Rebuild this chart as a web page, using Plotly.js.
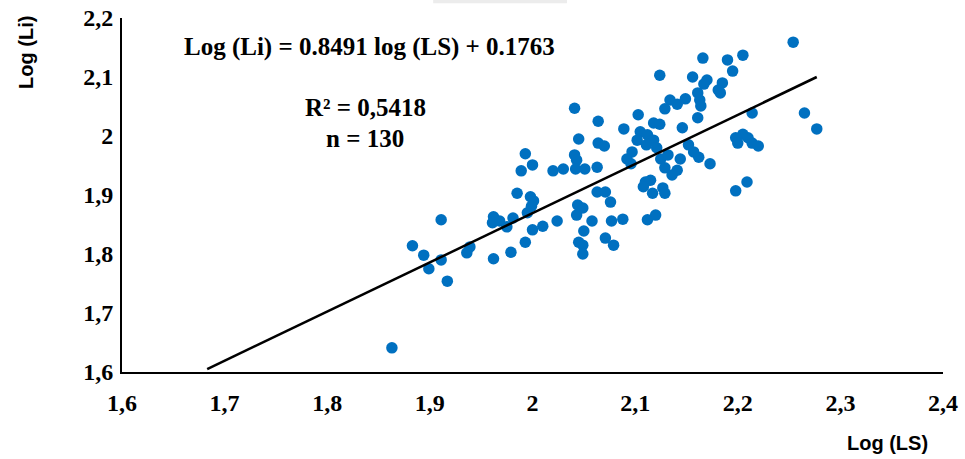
<!DOCTYPE html>
<html>
<head>
<meta charset="utf-8">
<script src="https://cdn.plot.ly/plotly-3.0.1.min.js"></script>
<style>html,body{margin:0;padding:0;background:#fff;}#chart{width:965px;height:459px;}</style>
</head>
<body>
<div id="chart"></div>
<script>
// Observations: Log (LS) on x, Log (Li) on y
const logLS = [
 1.863,1.883,1.894,1.899,1.911,1.917,1.911,1.939,1.936,1.962,1.961,1.968,1.975,1.981,1.995,1.962,1.979,1.993,1.985,1.993,2.000,1.989,1.998,2.001,1.999,
 2.041,2.064,2.089,2.045,2.064,2.070,2.041,2.043,2.020,2.030,2.042,2.051,2.063,2.063,2.071,2.076,2.044,2.049,2.043,2.010,2.024,2.000,2.058,2.050,2.077,2.088,2.045,2.049,2.049,2.071,2.079,2.097,2.092,2.096,
 2.166,2.190,2.195,2.124,2.156,2.170,2.167,2.185,2.181,2.183,2.134,2.129,2.141,2.149,2.161,2.163,2.164,2.103,2.118,2.124,2.105,2.112,2.146,2.161,2.102,2.118,2.111,2.121,2.152,2.157,2.162,2.125,2.132,2.144,2.173,2.129,2.141,2.136,2.110,2.115,2.108,2.127,2.129,2.117,2.120,2.112,
 2.254,2.205,2.214,2.265,2.277,2.205,2.198,2.200,2.210,2.214,2.220,2.209,2.198
];
const logLi = [
 1.641,1.814,1.798,1.775,1.790,1.754,1.858,1.812,1.802,1.863,1.853,1.856,1.846,1.861,1.870,1.792,1.803,1.820,1.903,1.970,1.951,1.941,1.897,1.890,1.881,
 2.047,2.025,2.012,1.995,1.988,1.983,1.968,1.959,1.941,1.944,1.944,1.944,1.947,1.905,1.905,1.888,1.883,1.878,1.866,1.847,1.856,1.841,1.856,1.839,1.856,1.859,1.820,1.815,1.800,1.827,1.815,1.973,1.961,1.953,
 2.132,2.129,2.110,2.103,2.100,2.095,2.088,2.090,2.078,2.073,2.061,2.046,2.054,2.063,2.073,2.061,2.051,2.036,2.022,2.020,2.007,2.002,2.014,2.031,1.993,1.993,1.985,1.980,1.985,1.973,1.964,1.961,1.968,1.961,1.953,1.946,1.942,1.934,1.922,1.925,1.914,1.912,1.903,1.903,1.866,1.858,
 2.159,2.137,2.039,2.039,2.012,2.003,1.997,1.988,1.997,1.988,1.983,1.922,1.907
];
// Trend line as drawn (end points)
const trendX = [1.683, 2.277];
const trendY = [1.605, 2.100];

const xTickVals = [1.6,1.7,1.8,1.9,2.0,2.1,2.2,2.3,2.4];
const xTickText = ['1,6','1,7','1,8','1,9','2','2,1','2,2','2,3','2,4'];
const yTickVals = [1.6,1.7,1.8,1.9,2.0,2.1,2.2];
const yTickText = ['1,6','1,7','1,8','1,9','2','2,1','2,2'];

const equationText = 'Log (Li) = 0.8491 log (LS) + 0.1763';
const r2Text = 'R² = 0,5418';
const nText = 'n = 130';
const xTitle = 'Log (LS)';
const yTitle = 'Log (Li)';

const tickFont = {family:'Liberation Serif, Times New Roman, serif', size:24, color:'#000', weight:'bold'};
const noteFont = {family:'Liberation Serif, Times New Roman, serif', size:25, color:'#000', weight:'bold'};
const titleFont = {family:'Liberation Sans, Arial, sans-serif', size:20, color:'#000', weight:'bold'};

const data = [
  {x: logLS, y: logLi, type:'scatter', mode:'markers',
   marker:{size:11.5, color:'#0070c0'}, hoverinfo:'skip', showlegend:false},
  {x: trendX, y: trendY, type:'scatter', mode:'lines',
   line:{color:'#000', width:2.5}, hoverinfo:'skip', showlegend:false}
];

const layout = {
  width:965, height:459,
  margin:{l:122, r:22, t:18, b:87},
  paper_bgcolor:'#fff', plot_bgcolor:'#fff',
  showlegend:false,
  xaxis:{range:[1.6,2.4], showline:true, linecolor:'#000', linewidth:2, showgrid:false, zeroline:false,
         ticks:'', tickvals:xTickVals, ticktext:xTickText, tickfont:tickFont, ticklabelstandoff:8, fixedrange:true},
  yaxis:{range:[1.6,2.2], showline:true, linecolor:'#000', linewidth:2, showgrid:false, zeroline:false,
         ticks:'', tickvals:yTickVals, ticktext:yTickText, tickfont:tickFont, ticklabelstandoff:2, fixedrange:true},
  shapes:[{type:'rect', xref:'paper', yref:'paper', x0:0.379, x1:0.542, y0:1.042, y1:1.06,
           fillcolor:'#ececec', line:{width:0}}],
  annotations:[
    {text:equationText, xref:'paper', yref:'paper', x:0.302, y:0.918, xanchor:'center', yanchor:'middle', showarrow:false, font:noteFont},
    {text:r2Text, xref:'paper', yref:'paper', x:0.296, y:0.746, xanchor:'center', yanchor:'middle', showarrow:false, font:noteFont},
    {text:nText, xref:'paper', yref:'paper', x:0.296, y:0.661, xanchor:'center', yanchor:'middle', showarrow:false, font:noteFont},
    {text:xTitle, xref:'paper', yref:'paper', x:0.933, y:-0.2006, xanchor:'center', yanchor:'middle', showarrow:false, font:titleFont},
    {text:yTitle, xref:'paper', yref:'paper', x:-0.117, y:0.904, xanchor:'center', yanchor:'middle', textangle:-90, showarrow:false, font:titleFont}
  ]
};

Plotly.newPlot('chart', data, layout, {staticPlot:true, displayModeBar:false});
</script>
</body>
</html>
